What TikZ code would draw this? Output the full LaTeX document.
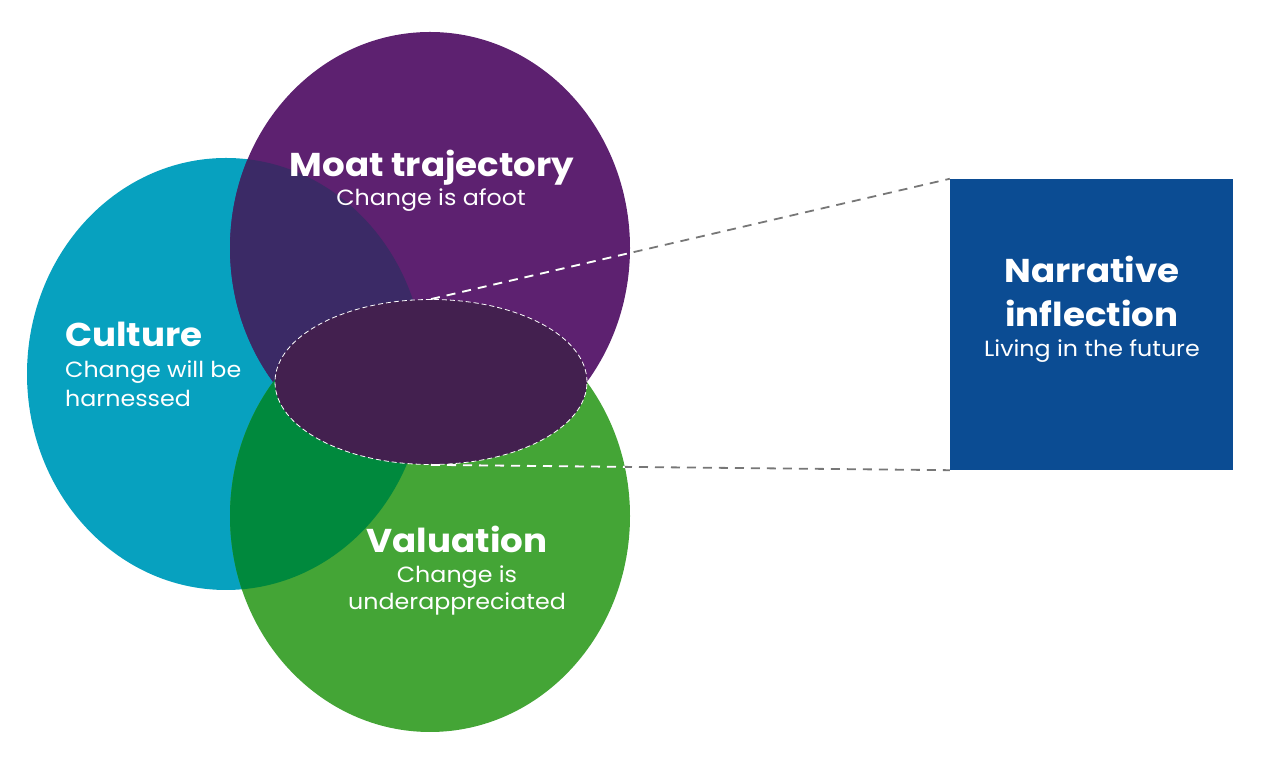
\documentclass[tikz,border=0pt]{standalone}
\usepackage{fontspec}
\setmainfont[FakeStretch=1.08]{Poppins}
\usetikzlibrary{shapes.geometric}
\definecolor{cteal}{HTML}{07A1BF}
\definecolor{cpurple}{HTML}{5D2170}
\definecolor{cgreen}{HTML}{44A536}
\definecolor{ctp}{HTML}{3B2A66}
\definecolor{ctg}{HTML}{00893D}
\definecolor{ccore}{HTML}{43204F}
\definecolor{cbox}{HTML}{0B4C93}
\definecolor{cdash}{HTML}{777777}
\tikzset{
  ttl/.style={text=white, font=\bfseries\fontsize{33}{33}\selectfont, inner sep=0pt, anchor=base},
  sub/.style={text=white, font=\fontsize{22}{22}\selectfont, inner sep=0pt, anchor=base},
  conn/.style={line width=1.8pt, dash pattern=on 9pt off 7pt},
}
\begin{document}
\begin{tikzpicture}[x=1pt,y=1pt]
\useasboundingbox (0,0) rectangle (1280,778);
% circles
\fill[cteal] (226,404) ellipse [x radius=199, y radius=216];
\fill[cpurple] (430,530) ellipse [x radius=200, y radius=216];
\fill[cgreen] (430,262) ellipse [x radius=200, y radius=216];
\begin{scope}
  \clip (226,404) ellipse [x radius=199, y radius=216];
  \fill[ctp] (430,530) ellipse [x radius=200, y radius=216];
  \fill[ctg] (430,262) ellipse [x radius=200, y radius=216];
\end{scope}
% core ellipse
\node[ellipse, fill=ccore, draw=white, line width=0.8pt, dash pattern=on 5pt off 3pt,
      minimum width=312pt, minimum height=165pt, inner sep=0pt] (core) at (431,396) {};
% box
\node[fill=cbox, minimum width=283pt, minimum height=291pt, inner sep=0pt] (narr) at (1091.5,453.5) {};
% connectors
\draw[conn, cdash] (core.north) -- (narr.north west);
\draw[conn, cdash] (core.south) -- (narr.south west);
\begin{scope}
  \clip (430,530) ellipse [x radius=200, y radius=216];
  \draw[conn, white] (core.north) -- (narr.north west);
\end{scope}
\begin{scope}
  \clip (430,262) ellipse [x radius=200, y radius=216];
  \draw[conn, white] (core.south) -- (narr.south west);
\end{scope}
% texts
\node[ttl] (moatT) at (432,601) {Moat trajectory};
\node[sub] (moatS) at (431,572) {Change is afoot};
\node[ttl, anchor=base west] (culT) at (65,431) {Culture};
\node[sub, anchor=base west] (culS1) at (65,400) {Change will be};
\node[sub, anchor=base west] (culS2) at (65,371) {harnessed};
\node[ttl] (valT) at (457,225) {Valuation};
\node[sub] (valS1) at (457,195) {Change is};
\node[sub] (valS2) at (457,168) {underappreciated};
\node[ttl] (narT1) at (1092,495) {Narrative};
\node[ttl] (narT2) at (1092,451) {inflection};
\node[sub] (narS) at (1092,421) {Living in the future};
\end{tikzpicture}
\end{document}
